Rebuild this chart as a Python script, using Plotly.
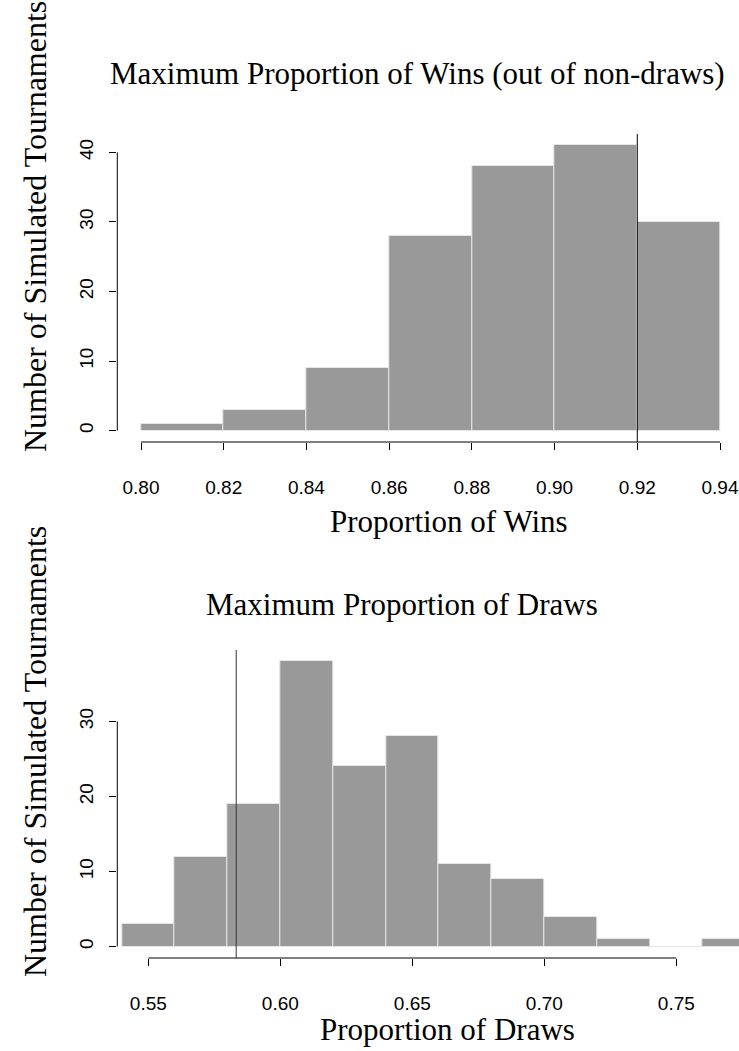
import plotly.graph_objects as go

# ---- data -------------------------------------------------------------
# Maximum proportion of wins (out of non-draws): histogram bins and counts
wins_bin_start = 0.80
wins_bin_width = 0.02
wins_counts = [1, 3, 9, 28, 38, 41, 30]
wins_observed = 0.92
wins_xticks = [0.80, 0.82, 0.84, 0.86, 0.88, 0.90, 0.92, 0.94]
wins_yticks = [0, 10, 20, 30, 40]

# Maximum proportion of draws: histogram bins and counts
draws_bin_start = 0.54
draws_bin_width = 0.02
draws_counts = [3, 12, 19, 38, 24, 28, 11, 9, 4, 1, 0, 1]
draws_observed = 0.5833
draws_xticks = [0.55, 0.60, 0.65, 0.70, 0.75]
draws_yticks = [0, 10, 20, 30]

W, H = 739, 1051
SERIF = "Liberation Serif"
SANS = "Liberation Sans"
BAR_FILL = "#999999"
BAR_EDGE = "#e6e6e6"


def fx(p):
    return p / W


def fy(p):
    return 1 - p / H


def centers(start, width, counts):
    return [start + width * (i + 0.5) for i in range(len(counts))]


fig = go.Figure()

# top histogram
fig.add_trace(go.Bar(
    x=centers(wins_bin_start, wins_bin_width, wins_counts),
    y=wins_counts, width=[wins_bin_width] * len(wins_counts),
    marker=dict(color=BAR_FILL, line=dict(color=BAR_EDGE, width=1)),
    xaxis="x", yaxis="y", showlegend=False, hoverinfo="skip"))

# bottom histogram
fig.add_trace(go.Bar(
    x=centers(draws_bin_start, draws_bin_width, draws_counts),
    y=draws_counts, width=[draws_bin_width] * len(draws_counts),
    marker=dict(color=BAR_FILL, line=dict(color=BAR_EDGE, width=1)),
    xaxis="x2", yaxis="y2", showlegend=False, hoverinfo="skip"))

tickfont = dict(family=SANS, size=19, color="black")
xcommon = dict(showgrid=False, zeroline=False, showline=False, ticks="outside",
               ticklen=7, tickwidth=1, tickcolor="black", tickfont=tickfont,
               tickformat=".2f", ticklabelstandoff=21)
ycommon = dict(showgrid=False, zeroline=False, showline=False, ticks="outside",
               ticklen=7, tickwidth=1, tickcolor="black", tickfont=tickfont,
               tickangle=-90, ticklabelstandoff=9)

# plot regions (pixel geometry of each panel)
left_px = 117.3
top_x0, top_x1 = 141.0, 720.0          # pixel positions of 0.80 and 0.94
bot_x0, bot_x1 = 148.3, 676.3          # pixel positions of 0.55 and 0.75


def xrange_for(v0, v1, p0, p1):
    s = (p1 - p0) / (v1 - v0)
    return [v0 + (left_px - p0) / s, v0 + (W - p0) / s]


fig.update_layout(
    width=W, height=H, margin=dict(l=0, r=0, t=0, b=0),
    paper_bgcolor="white", plot_bgcolor="white", bargap=0,
    xaxis=dict(domain=[fx(left_px), 1],
               range=xrange_for(wins_xticks[0], wins_xticks[-1], top_x0, top_x1),
               tickvals=wins_xticks, anchor="y", **xcommon),
    yaxis=dict(domain=[fy(442), fy(134)], range=[-1.64, 42.64],
               tickvals=wins_yticks, anchor="x", **ycommon),
    xaxis2=dict(domain=[fx(left_px), 1],
                range=xrange_for(draws_xticks[0], draws_xticks[-1], bot_x0, bot_x1),
                tickvals=draws_xticks, anchor="y2", **xcommon),
    yaxis2=dict(domain=[fy(958), fy(650)], range=[-1.52, 39.52],
                tickvals=draws_yticks, anchor="x2", **ycommon),
)

shapes = []
for xa, ya, xt, yt, obs, col in [("x", "y", wins_xticks, wins_yticks, wins_observed, "black"),
                                 ("x2", "y2", draws_xticks, draws_yticks, draws_observed, "#333333")]:
    # axis lines spanning first to last tick
    shapes.append(dict(type="line", xref=xa, yref=f"{ya} domain", x0=xt[0], x1=xt[-1],
                       y0=0, y1=0, line=dict(color="black", width=1)))
    shapes.append(dict(type="line", xref=f"{xa} domain", yref=ya, x0=0, x1=0,
                       y0=yt[0], y1=yt[-1], line=dict(color="black", width=1)))
    # observed value marker
    shapes.append(dict(type="line", xref=xa, yref=f"{ya} domain", x0=obs, x1=obs,
                       y0=0, y1=1, line=dict(color=col, width=1)))
fig.update_layout(shapes=shapes)

ann = []
titlefont = dict(family=SERIF, size=31, color="black")
labelfont = dict(family=SERIF, size=32, color="black")
ann.append(dict(text="Maximum Proportion of Wins (out of non-draws)", x=fx(417), y=fy(73),
                xref="paper", yref="paper", showarrow=False, font=titlefont,
                xanchor="center", yanchor="middle"))
ann.append(dict(text="Maximum Proportion of Draws", x=fx(401.5), y=fy(604),
                xref="paper", yref="paper", showarrow=False, font=titlefont,
                xanchor="center", yanchor="middle"))
ann.append(dict(text="Proportion of Wins", x=fx(449), y=fy(521),
                xref="paper", yref="paper", showarrow=False, font=titlefont,
                xanchor="center", yanchor="middle"))
ann.append(dict(text="Proportion of Draws", x=fx(447), y=fy(1029),
                xref="paper", yref="paper", showarrow=False, font=titlefont,
                xanchor="center", yanchor="middle"))
for yc in (227, 752):
    ann.append(dict(text="Number of Simulated Tournaments", x=fx(35), y=fy(yc),
                    xref="paper", yref="paper", showarrow=False, font=labelfont,
                    textangle=-90, xanchor="center", yanchor="middle"))
fig.update_layout(annotations=ann)

fig.write_html("out.html")
